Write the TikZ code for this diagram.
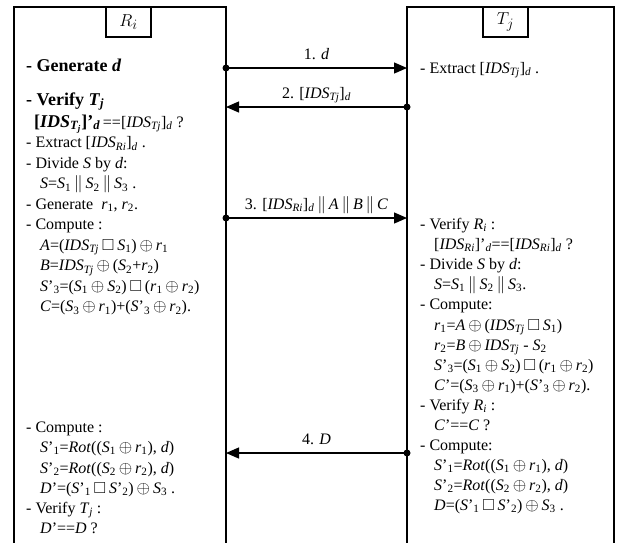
\documentclass[tikz,border=0pt]{standalone}
\usepackage{amsmath,amssymb}
\usepackage{fontspec}
\setmainfont{Liberation Serif}
\usepackage{tikz}
\usetikzlibrary{arrows.meta}
\newcommand{\IDS}[1]{\textit{IDS}\textsubscript{\textit{#1}}}
\newcommand{\Sn}[1]{\textit{S}\textsubscript{#1}}
\newcommand{\rn}[1]{\textit{r}\textsubscript{#1}}
\newcommand{\Sp}[1]{\textit{S}'\textsubscript{#1}}
\newcommand{\xor}{$\,\oplus\,$}
\newcommand{\sq}{$\,\square\,$}
\newcommand{\cc}{$\,\|\,$}

\begin{document}
\begin{tikzpicture}[x=1pt,y=-1pt]
\tikzstyle{frm}=[draw, line width=1.2pt, shape=rectangle, outer sep=0pt, anchor=north west, minimum height=560pt]
\tikzstyle{ttl}=[draw, line width=1.2pt, shape=rectangle, outer sep=0pt, anchor=north, minimum width=45pt, minimum height=30pt, font=\fontsize{19}{22}\selectfont]
\tikzstyle{txt}=[anchor=base west, inner sep=0pt, text height=11pt, text depth=3pt, font=\fontsize{16}{20}\selectfont]
\tikzstyle{bld}=[anchor=base west, inner sep=0pt, text height=12pt, text depth=4pt, font=\fontsize{18}{22}\selectfont\bfseries]
\tikzstyle{msg}=[line width=1.2pt, -{Triangle[length=13pt,width=11pt]}]
\tikzstyle{lbl}=[anchor=base, inner sep=0pt, yshift=9pt, font=\fontsize{16}{20}\selectfont]
\path[use as bounding box, clip] (0,0) rectangle (620,542);
%
\node[frm, minimum width=212pt](rfrm) at (14,7){};
\node[frm, minimum width=207pt](tfrm) at (407,7){};
\node[ttl](rttl) at (128.5,7){$R_i$};
\node[ttl](tttl) at (505.5,7){$T_j$};
%
\node[bld](rgen) at (26,71){- Generate \textit{d}};
\node[bld](rver) at (26,105){- Verify \textit{T}\textsubscript{\textit{j}}};
\node[txt](rchk) at (34,127){{\fontsize{18}{22}\selectfont\bfseries [\textit{IDS}\textsubscript{\textit{T\textsubscript{j}}}]'\textsubscript{\textit{d}}}\,==[\IDS{Tj}]\textsubscript{\textit{d}} ?};
\node[txt](rext) at (26,147.5){- Extract [\IDS{Ri}]\textsubscript{\textit{d}} .};
\node[txt](rdiv) at (26,168){- Divide \textit{S} by \textit{d}:};
\node[txt](rsplit) at (40,188.5){\textit{S}=\Sn{1}\cc\Sn{2}\cc\Sn{3} .};
\node[txt](rgenr) at (26,209){- Generate \ \rn{1}, \rn{2}.};
\node[txt](rcomp) at (26,229.5){- Compute :};
\node[txt](ra) at (40,250){\textit{A}=(\IDS{Tj}\sq\Sn{1})\xor\rn{1}};
\node[txt](rb) at (40,270.5){\textit{B}=\IDS{Tj}\xor(\Sn{2}+\rn{2})};
\node[txt](rsthree) at (40,291){\Sp{3}=(\Sn{1}\xor\Sn{2})\sq(\rn{1}\xor\rn{2})};
\node[txt](rc) at (40,311.5){\textit{C}=(\Sn{3}\xor\rn{1})+(\Sp{3}\xor\rn{2}).};
%
\node[txt](rcomp2) at (26,432){- Compute :};
\node[txt](rsone) at (40,452){\Sp{1}=\textit{Rot}((\Sn{1}\xor\rn{1}), \textit{d})};
\node[txt](rstwo) at (40,473){\Sp{2}=\textit{Rot}((\Sn{2}\xor\rn{2}), \textit{d})};
\node[txt](rdp) at (40,493){\textit{D}'=(\Sp{1}\sq\Sp{2})\xor\Sn{3} .};
\node[txt](rver2) at (26,513){- Verify \textit{T}\textsubscript{\textit{j}} :};
\node[txt](rdeq) at (40,533){\textit{D}'==\textit{D} ?};
%
\node[txt](text) at (420,73){- Extract [\IDS{Tj}]\textsubscript{\textit{d}} .};
\node[txt](tver) at (420,229){- Verify \textit{R}\textsubscript{\textit{i}} :};
\node[txt](tchk) at (434,249){[\IDS{Ri}]'\textsubscript{\textit{d}}==[\IDS{Ri}]\textsubscript{\textit{d}} ?};
\node[txt](tdiv) at (420,269){- Divide \textit{S} by \textit{d}:};
\node[txt](tsplit) at (434,289){\textit{S}=\Sn{1}\cc\Sn{2}\cc\Sn{3}.};
\node[txt](tcomp) at (420,309){- Compute:};
\node[txt](tra) at (434,330){\rn{1}=\textit{A}\xor(\IDS{Tj}\sq\Sn{1})};
\node[txt](trb) at (434,350){\rn{2}=\textit{B}\xor\IDS{Tj} - \Sn{2}};
\node[txt](tsthree) at (434,370){\Sp{3}=(\Sn{1}\xor\Sn{2})\sq(\rn{1}\xor\rn{2})};
\node[txt](tcp) at (434,390){\textit{C}'=(\Sn{3}\xor\rn{1})+(\Sp{3}\xor\rn{2}).};
\node[txt](tver2) at (420,410){- Verify \textit{R}\textsubscript{\textit{i}} :};
\node[txt](tceq) at (434,430){\textit{C}'==\textit{C} ?};
\node[txt](tcomp2) at (420,450){- Compute:};
\node[txt](tsone) at (434,470){\Sp{1}=\textit{Rot}((\Sn{1}\xor\rn{1}), \textit{d})};
\node[txt](tstwo) at (434,490){\Sp{2}=\textit{Rot}((\Sn{2}\xor\rn{2}), \textit{d})};
\node[txt](td) at (434,510){\textit{D}=(\Sp{1}\sq\Sp{2})\xor\Sn{3} .};
%
\coordinate (m1r) at (226,68);
\coordinate (m1t) at (407,68);
\coordinate (m2r) at (226,107);
\coordinate (m2t) at (407,107);
\coordinate (m3r) at (226,218);
\coordinate (m3t) at (407,218);
\coordinate (m4r) at (226,453);
\coordinate (m4t) at (407,453);
%
\draw[msg] (m1r) -- node[lbl]{1. \textit{d}} (m1t);
\draw[msg] (m2t) -- node[lbl]{2. [\IDS{Tj}]\textsubscript{\textit{d}}} (m2r);
\draw[msg] (m3r) -- node[lbl]{3. [\IDS{Ri}]\textsubscript{\textit{d}}\cc\textit{A}\cc\textit{B}\cc\textit{C}} (m3t);
\draw[msg] (m4t) -- node[lbl]{4. \textit{D}} (m4r);
\fill (m1r) circle (3.5pt);
\fill (m2t) circle (3.5pt);
\fill (m3r) circle (3.5pt);
\fill (m4t) circle (3.5pt);
%
\end{tikzpicture}
\end{document}
